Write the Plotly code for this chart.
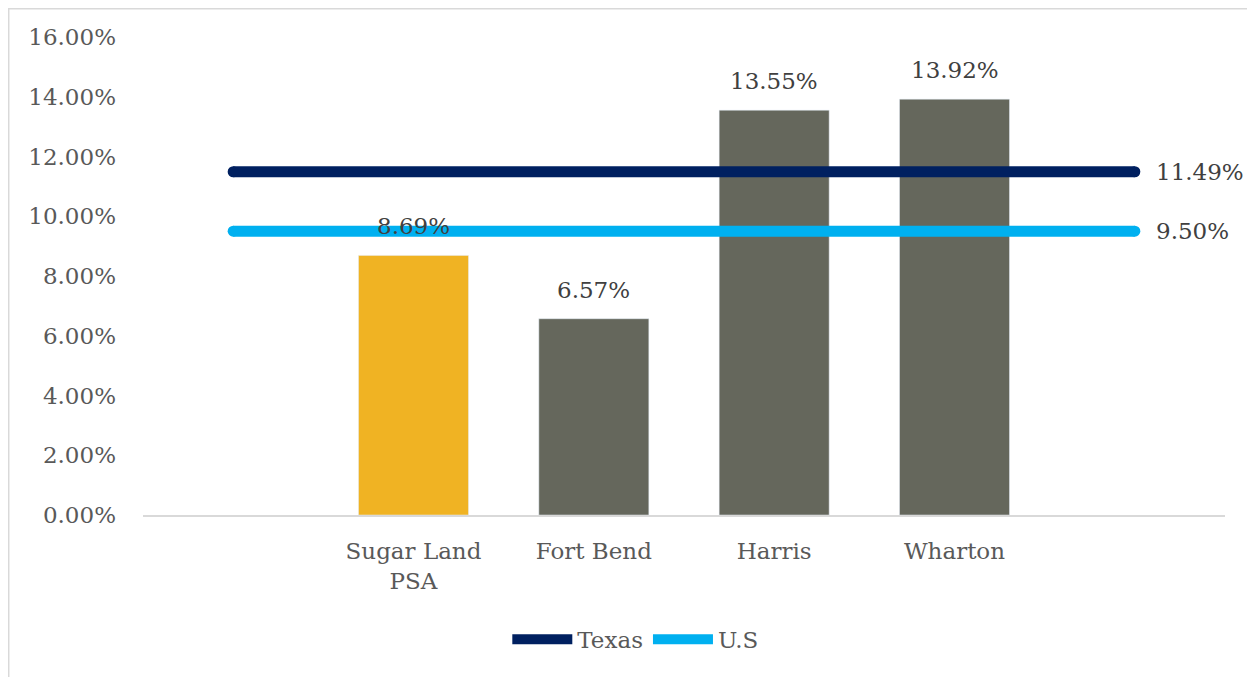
import plotly.graph_objects as go

categories = [" ", "Sugar Land<br>PSA", "Fort Bend", "Harris", "Wharton", "  "]
bar_values = [None, 8.69, 6.57, 13.55, 13.92, None]
bar_colors = ["#f0b323", "#f0b323", "#65675c", "#65675c", "#65675c", "#65675c"]
texas_value = 11.49
us_value = 9.50

FONT = "DejaVu Serif"
TXT = "#595959"
LBL = "#404040"
FS = 23

fig = go.Figure()
fig.add_trace(go.Bar(
    x=categories, y=bar_values, marker_color=bar_colors, showlegend=False,
    hoverinfo="skip",
))

annotations = []
for name, val, color in [("Texas", texas_value, "#002060"), ("U.S", us_value, "#00b0f0")]:
    ys = [val] * len(categories)
    fig.add_trace(go.Scatter(
        x=categories, y=ys, name=name, mode="lines",
        line=dict(color=color, width=11), hoverinfo="skip",
    ))
    fig.add_trace(go.Scatter(
        x=[categories[0], categories[-1]], y=[val, val], mode="markers",
        marker=dict(color=color, size=11, line=dict(width=0)),
        showlegend=False, hoverinfo="skip", cliponaxis=False,
    ))
    annotations.append(dict(
        x=categories[-1], y=val, text=f"{val:.2f}%", showarrow=False,
        xanchor="left", yanchor="middle", xshift=19,
        font=dict(family=FONT, size=FS, color=LBL),
    ))

for c, v in zip(categories, bar_values):
    if v is not None:
        annotations.append(dict(
            x=c, y=v, text=f"{v:.2f}%", showarrow=False,
            xanchor="center", yanchor="bottom", yshift=14,
            font=dict(family=FONT, size=FS, color=LBL),
        ))

fig.update_layout(
    width=1255, height=677,
    margin=dict(l=135, r=38, t=29, b=170),
    paper_bgcolor="white", plot_bgcolor="white",
    font=dict(family=FONT, size=FS, color=TXT),
    bargap=0.39,
    legend=dict(
        orientation="h", x=0.455, xanchor="center", y=-0.26, yanchor="middle",
        font=dict(family=FONT, size=FS, color=TXT), itemwidth=60,
        traceorder="normal",
    ),
    yaxis=dict(
        range=[0, 16], dtick=2, tickformat=".2f", ticksuffix="%",
        showgrid=False, zeroline=False, showline=False,
        ticklabelstandoff=26, tickfont=dict(family=FONT, size=FS, color=TXT),
    ),
    xaxis=dict(
        range=[-0.5, len(categories) - 0.5],
        showgrid=False, showline=True, linecolor="#d9d9d9", linewidth=1.5,
        ticks="", ticklabelstandoff=15, tickfont=dict(family=FONT, size=FS, color=TXT),
    ),
    annotations=annotations,
    shapes=[dict(
        type="rect", xref="paper", yref="paper",
        x0=-0.1241, x1=1.025, y0=-0.362, y1=1.0591,
        line=dict(color="#d9d9d9", width=1.5), fillcolor="rgba(0,0,0,0)",
        layer="below",
    )],
)

fig.write_html("out.html")
